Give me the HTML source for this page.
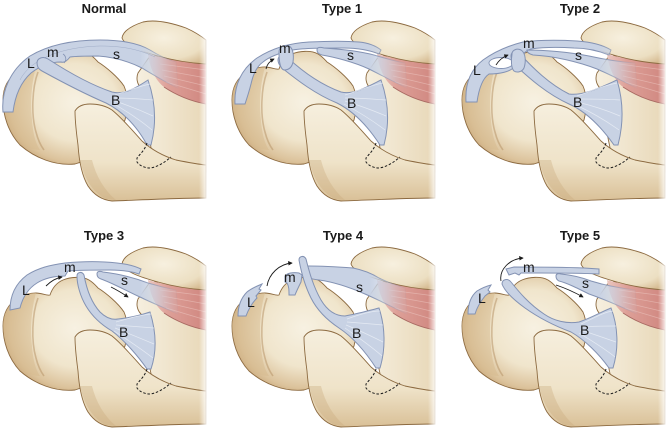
<!DOCTYPE html>
<html><head><meta charset="utf-8"><style>
html,body{margin:0;padding:0;background:#fff;}
svg{display:block;}
.t{font-family:"Liberation Sans",Arial,sans-serif;font-weight:bold;font-size:13px;fill:#1a1a1a;text-anchor:middle;}
.l{font-family:"Liberation Sans",Arial,sans-serif;font-size:14px;fill:#1a1a1a;}
.lig{fill:#c8d2e4;stroke:#8392b3;stroke-width:1;}
.ligs{fill:url(#gS);stroke:url(#gSs);stroke-width:1;}
.ar{fill:none;stroke:#1a1a1a;stroke-width:0.9;marker-end:url(#ah);}
.st{stroke:#e8edf5;stroke-width:.7;fill:none;opacity:.9}
.bn{stroke:#8c6a40;stroke-width:.9;}
</style></head><body>
<svg width="671" height="429" viewBox="0 0 671 429" xmlns="http://www.w3.org/2000/svg">
<defs>
 <marker id="ah" viewBox="0 0 6 6" refX="5" refY="3" markerWidth="5" markerHeight="5" orient="auto"><path d="M0,0 L6,3 L0,6 Z" fill="#1a1a1a"/></marker>
 <radialGradient id="gHead" cx="0.58" cy="0.45" r="0.62">
  <stop offset="0" stop-color="#f7f1e2"/><stop offset="0.55" stop-color="#f0e5cc"/><stop offset="0.85" stop-color="#dcc39c"/><stop offset="1" stop-color="#c6a476"/>
 </radialGradient>
 <linearGradient id="gLow" x1="0" y1="0" x2="0" y2="1">
  <stop offset="0" stop-color="#f6efde"/><stop offset="0.6" stop-color="#efe3c9"/><stop offset="1" stop-color="#d9c097"/>
 </linearGradient>
 <radialGradient id="gCor" cx="0.5" cy="0.4" r="0.7">
  <stop offset="0" stop-color="#f7f0df"/><stop offset="0.7" stop-color="#ecdfc2"/><stop offset="1" stop-color="#d5ba90"/>
 </radialGradient>
 <linearGradient id="gScap" x1="0" y1="0" x2="1" y2="0">
  <stop offset="0" stop-color="#f6efdf"/><stop offset="1" stop-color="#e8d8b8"/>
 </linearGradient>
 <linearGradient id="gMus" x1="0" y1="0" x2="1" y2="0">
  <stop offset="0" stop-color="#ebc6be"/><stop offset="0.35" stop-color="#dd9f97"/><stop offset="1" stop-color="#d08780"/>
 </linearGradient>
 <linearGradient id="gS" gradientUnits="userSpaceOnUse" x1="140" y1="0" x2="180" y2="0">
  <stop offset="0" stop-color="#c8d2e4"/><stop offset="1" stop-color="#c8d2e4" stop-opacity="0"/>
 </linearGradient>
 <linearGradient id="gSs" gradientUnits="userSpaceOnUse" x1="140" y1="0" x2="180" y2="0">
  <stop offset="0" stop-color="#8392b3"/><stop offset="1" stop-color="#8392b3" stop-opacity="0"/>
 </linearGradient>
 <linearGradient id="gFade" x1="0" y1="0" x2="1" y2="0">
  <stop offset="0" stop-color="#fff" stop-opacity="0"/><stop offset="1" stop-color="#fff" stop-opacity="1"/>
 </linearGradient>

 <g id="back">
  <path class="bn" d="M138,73 C136,78 137,84 141,88 C144,110 148,135 152,152 L206,172 L206,56 L150,56 Z" fill="url(#gScap)"/>
  <path d="M148,54 C165,59 186,62 206,62 L206,104 C190,101 176,95 164,87 C155,80 150,68 148,54 Z" fill="url(#gMus)"/>
  <g stroke="#f0cfc9" stroke-width=".7" fill="none" opacity=".5">
   <path d="M160,64 L206,70"/><path d="M162,70 L206,78"/><path d="M164,76 L206,86"/><path d="M166,82 L206,94"/>
  </g>
  <path d="M164,87 C176,95 190,101 206,104" fill="none" stroke="#a86a62" stroke-width=".9"/>
  <path class="bn" d="M122,38 C123,31 131,26 143,22 C156,19 172,23 186,28 C195,32 201,36 206,40 L206,64 C190,63 172,60 158,56 C140,51 125,46 122,38 Z" fill="url(#gCor)"/>
  <path class="bn" d="M3,100 C3,88 8,78 18,72 C25,68 30,67 36,67 C42,67 47,70 50,69 C52,63 56,57 63,54 C70,51 82,50 89,54 C94,57 96,60 98,62 C106,67 118,77 124,86 C128,95 128,108 125,120 C115,140 96,158 75,164 C55,166 35,158 20,145 C8,132 3,115 3,100 Z" fill="url(#gHead)"/>
  <path d="M3,100 C3,88 8,78 18,72 C25,68 30,67 36,67 C32,80 30,100 32,120 C33,135 36,144 40,150 C30,150 22,145 15,136 C8,126 3,112 3,100 Z" fill="#d5b98e" opacity=".5"/>
  <path d="M38,72 C32,88 31,115 36,132 C38,140 41,146 44,150" fill="none" stroke="#b8966a" stroke-width="1.6" opacity=".55"/>
 </g>

 <g id="front">
  <path class="bn" d="M75,111 C78,106 84,104 90,104 C98,104 106,106 112,110 C122,118 132,130 142,141 C152,150 163,156 176,160 C186,162 196,164 206,165 L206,198 C180,198 140,200 112,201 C102,200 94,195 88,186 C82,176 79,160 78,145 C76,130 75,120 75,111 Z" fill="url(#gLow)"/>
  <path d="M80,160 C84,178 92,192 106,199 L116,200 C104,190 96,176 92,160 Z" fill="#c9a97b" opacity=".35"/>
  <path d="M147,143 C145,150 140,154 137,158 L137,162 C140,166 145,168 150,168 C158,167 165,162 171,157" fill="none" stroke="#1a1a1a" stroke-width="1" stroke-dasharray="2.5,1.8"/>
  <rect x="199" y="15" width="9" height="190" fill="url(#gFade)"/>
 </g>
</defs>

<!-- Titles -->
<text class="t" x="104" y="13">Normal</text>
<text class="t" x="342" y="13">Type 1</text>
<text class="t" x="580" y="13">Type 2</text>
<text class="t" x="104" y="240">Type 3</text>
<text class="t" x="343" y="240">Type 4</text>
<text class="t" x="580" y="240">Type 5</text>

<!-- NORMAL -->
<g transform="translate(0,0)">
 <use href="#back"/>
 <path class="ligs" d="M3,112 C1,92 10,70 30,56 C50,44 75,40 100,40 C120,40 138,43 150,50 C158,55 166,59 176,62 L178,88 C165,82 152,74 142,68 C128,61 112,57 98,56 C88,56 78,56 70,57 C67,61 64,63 61,62 C50,62 40,66 31,73 C21,82 15,96 13,112 Z"/>
 <path d="M20,80 C30,60 60,47 100,46 C125,46 140,50 155,57" fill="none" stroke="#8392b3" stroke-width=".5" opacity=".6"/>
 <path d="M63,54 C66,56 67,60 64,63" fill="none" stroke="#8392b3" stroke-width=".8"/>
 <path class="lig" d="M37,63 C37,58 43,56 48,59 C65,70 88,84 112,92 C124,95 136,88 148,80 C155,100 157,122 151,145 L147,145 C138,128 124,112 106,103 C85,94 62,82 42,71 C38,69 37,66 37,63 Z"/>
 <g class="st"><path d="M115,95 C130,90 140,86 150,84"/><path d="M115,98 C130,98 140,99 153,100"/><path d="M115,101 C130,106 140,110 153,116"/><path d="M114,104 C128,112 140,120 152,130"/></g>
 <text class="l" x="27" y="68">L</text>
 <text class="l" x="47" y="57">m</text>
 <text class="l" x="113" y="59">s</text>
 <text class="l" x="111" y="105">B</text>
 <use href="#front"/>
</g>

<!-- TYPE 1 -->
<g transform="translate(229,0)">
 <use href="#back"/>
 <path class="ligs" d="M6,104 C5,86 12,69 28,58 C45,47 62,43 80,42 C100,41 118,41 130,42 C140,43 147,46 152,50 L150,54 C140,50 128,48 115,48 C95,48 75,48 64,50 C50,53 40,57 34,62 C28,66 24,75 22,84 C20,92 18,98 16,104 Z"/>
 <path class="ligs" d="M88,50 C88,47 91,47 95,48 C110,49 130,51 145,55 C155,58 165,61 176,63 L178,88 C165,82 152,75 140,69 C125,62 105,57 93,55 C89,54 88,52 88,50 Z"/>
 <path class="lig" d="M49,60 C49,55 55,54 59,58 C72,70 90,84 112,92 C124,95 136,88 152,80 C159,100 161,122 155,145 L151,145 C140,128 126,112 108,103 C86,94 68,80 53,68 C50,65 49,63 49,60 Z"/>
 <g class="st"><path d="M116,95 C132,90 142,85 154,83"/><path d="M116,98 C132,98 143,99 157,100"/><path d="M116,101 C132,106 143,110 157,116"/><path d="M115,104 C130,112 143,120 156,130"/></g>
 <path class="lig" d="M50,52 C50,47 55,44 60,46 C64,48 65,55 64,62 C63,67 60,70 55,70 C51,69 50,62 50,52 Z"/>
 <path class="ar" d="M37,69 C38,64 41,61 45,59"/>
 <text class="l" x="20" y="73">L</text>
 <text class="l" x="50" y="53">m</text>
 <text class="l" x="118" y="60">s</text>
 <text class="l" x="118" y="108">B</text>
 <use href="#front"/>
</g>

<!-- TYPE 2 -->
<g transform="translate(459,0)">
 <use href="#back"/>
 <path class="ligs" d="M7,102 C6,85 11,70 24,60 C38,50 52,45 64,42 C80,40 100,40 118,41 C132,42 144,45 152,50 L150,55 C140,51 128,48 115,48 C100,47 85,47 72,49 C65,51 60,58 56,66 C52,72 40,74 30,74 C24,78 20,88 18,102 Z"/>
 <ellipse cx="42" cy="63" rx="12" ry="5.5" fill="#fff" stroke="#8392b3" stroke-width=".9"/>
 <path class="ligs" d="M68,50 C85,50 110,52 130,56 C148,60 162,62 176,63 L178,88 C165,82 150,74 138,69 C120,62 95,56 74,55 C70,54 68,52 68,50 Z"/>
 <path class="lig" d="M52,56 C52,51 58,50 61,54 C74,68 90,84 110,94 C124,96 140,88 158,80 C164,100 165,122 159,145 L155,145 C143,128 128,112 110,104 C88,94 70,78 56,65 C53,62 52,59 52,56 Z"/>
 <g class="st"><path d="M118,96 C135,90 146,85 158,83"/><path d="M118,99 C135,99 147,99 161,100"/><path d="M118,102 C135,106 147,110 161,116"/><path d="M117,105 C132,112 146,120 160,130"/></g>
 <path class="lig" d="M53,54 C53,50 58,48 62,50 C67,53 67,62 65,68 C63,72 58,73 55,71 C52,68 52,60 53,54 Z"/>
 <path class="ar" d="M37,65 C40,60 44,57 49,55"/>
 <text class="l" x="14" y="75">L</text>
 <text class="l" x="64" y="48">m</text>
 <text class="l" x="116" y="60">s</text>
 <text class="l" x="114" y="107">B</text>
 <use href="#front"/>
</g>

<!-- TYPE 3 -->
<g transform="translate(0,226)">
 <use href="#back"/>
 <path class="lig" d="M10,84 C10,70 15,58 27,49 C38,42 50,39 65,37 C85,35 100,35 117,37 C127,38 135,40 141,43 L139,48 C130,45 120,44 110,44 C95,44 80,44 68,45 L65,50 C55,50 45,52 37,57 C29,62 23,70 20,82 Z"/>
 <path class="ligs" d="M97,48 C97,45 100,45 103,46 C120,48 135,52 148,57 C158,60 166,62 176,64 L178,88 C165,82 152,77 140,71 C125,64 110,56 101,53 C98,52 97,50 97,48 Z"/>
 <path class="lig" d="M77,50 C77,46 82,45 84,49 C86,60 90,75 100,86 C106,92 112,94 118,93 C128,92 138,90 150,86 C156,105 157,125 151,143 L147,143 C138,130 125,115 112,105 C100,98 92,90 86,80 C80,70 77,58 77,50 Z"/>
 <g class="st"><path d="M116,96 C130,92 140,89 151,88"/><path d="M116,99 C130,100 140,101 154,102"/><path d="M115,102 C130,108 140,112 154,118"/><path d="M114,105 C128,114 140,122 153,132"/></g>
 <path class="ar" d="M46,60 C51,55 56,52 62,51"/>
 <path class="ar" d="M111,61 C117,64 122,67 128,71"/>
 <text class="l" x="22" y="69">L</text>
 <text class="l" x="64" y="46">m</text>
 <text class="l" x="121" y="59">s</text>
 <text class="l" x="119" y="111">B</text>
 <use href="#front"/>
</g>

<!-- TYPE 4 -->
<g transform="translate(229,226)">
 <use href="#back"/>
 <path class="lig" d="M9,90 C9,80 12,72 18,66 C23,62 28,60 33,58 L30,63 L32,64 L27,70 L28,72 C24,76 20,82 17,90 Z"/>
 <path class="ligs" d="M73,44 C73,41 76,40 80,40 C95,40 110,41 124,42 C134,44 142,47 150,52 C158,56 166,59 176,62 L178,88 C165,82 150,74 136,68 C120,61 105,56 90,54 C82,53 76,51 74,48 Z"/>
 <path class="lig" d="M70,34 C70,30 75,29 77,33 C80,45 84,60 92,74 C98,84 106,90 116,90 C128,88 138,85 150,82 C156,100 157,122 151,142 L147,142 C138,128 125,112 110,102 C98,94 88,84 82,72 C76,60 72,45 70,34 Z"/>
 <g class="st"><path d="M118,93 C132,88 142,85 151,85"/><path d="M118,96 C132,97 142,98 154,99"/><path d="M117,99 C132,105 142,110 154,116"/><path d="M116,102 C130,112 142,120 153,130"/></g>
 <path class="lig" d="M56,50 C58,47 64,46 70,47 L73,49 L72,56 C70,60 68,64 66,69 L60,69 C60,64 60,60 58,57 L56,56 Z"/>
 <path class="ar" d="M38,60 C40,48 50,38 63,37"/>
 <text class="l" x="18" y="81">L</text>
 <text class="l" x="55" y="56">m</text>
 <text class="l" x="127" y="66">s</text>
 <text class="l" x="123" y="112">B</text>
 <use href="#front"/>
</g>

<!-- TYPE 5 -->
<g transform="translate(459,226)">
 <use href="#back"/>
 <path class="lig" d="M9,88 C9,78 12,70 18,65 C23,62 28,60 32,59 L29,64 L31,66 L26,70 C22,75 18,81 16,88 Z"/>
 <path class="lig" d="M47,43 L55,41 C75,41 100,41 125,42 L140,43 L140,48 C120,47 100,47 80,47 L62,47 L60,49 L56,47 L50,49 Z"/>
 <path class="ligs" d="M97,50 C97,48 99,47 102,48 C112,49 122,51 132,55 C145,59 160,62 176,64 L178,88 C165,82 150,75 130,68 C118,62 108,57 100,55 C98,54 97,52 97,50 Z"/>
 <path class="lig" d="M43,58 C43,53 49,52 52,56 C60,66 70,78 85,88 C95,95 108,98 120,96 C132,92 142,86 152,82 C159,100 160,122 154,142 L150,142 C140,128 126,114 112,106 C96,100 80,92 66,82 C55,74 46,66 43,58 Z"/>
 <g class="st"><path d="M122,98 C135,92 145,86 154,85"/><path d="M122,101 C135,100 145,100 157,100"/><path d="M121,104 C135,108 145,112 157,116"/><path d="M120,107 C133,115 145,122 156,131"/></g>
 <path class="ar" d="M42,55 C40,44 50,33 64,32"/>
 <path class="ar" d="M97,59 C106,62 115,66 124,71"/>
 <text class="l" x="19" y="77">L</text>
 <text class="l" x="64" y="46">m</text>
 <text class="l" x="123" y="62">s</text>
 <text class="l" x="121" y="109">B</text>
 <use href="#front"/>
</g>
</svg>
</body></html>
